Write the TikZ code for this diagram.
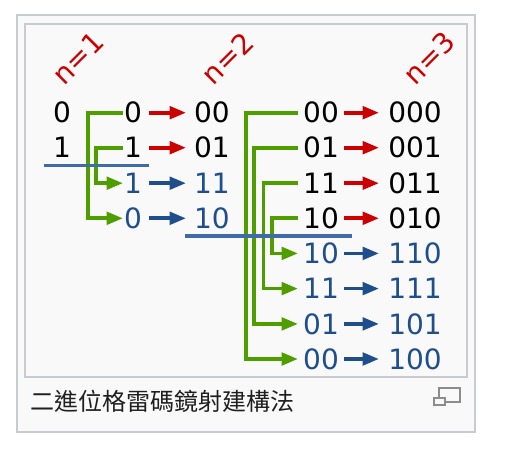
\documentclass[tikz,border=0pt]{standalone}
\usepackage{fontspec}
\setmainfont{DejaVu Sans}
\newfontfamily\cjkfont{Noto Sans CJK TC}
\usetikzlibrary{arrows.meta}
\definecolor{framegray}{HTML}{C8CCD0}
\definecolor{panelbg}{HTML}{F9F9F9}
\definecolor{arrred}{HTML}{CC0000}
\definecolor{arrblue}{HTML}{1F4E8C}
\definecolor{rulblue}{HTML}{3F6CA6}
\definecolor{arrgreen}{HTML}{4F9E00}
\definecolor{icongray}{HTML}{8C8C8C}
\tikzset{
  x=1pt,y=-1pt,
  digit/.style={inner sep=0pt,outer sep=0pt,font=\fontsize{28}{28}\selectfont,text height=20.5pt,text depth=0pt,align=center},
  blackd/.style={digit,text=black},
  blued/.style={digit,text=arrblue},
  wa/.style={minimum width=20pt},
  wb/.style={minimum width=52pt},
  wc/.style={minimum width=46pt},
  wd/.style={minimum width=72pt},
  nlabel/.style={text=arrred,rotate=45,inner sep=0pt,font=\fontsize{28}{28}\selectfont},
  tipped/.style={line width=3.7pt,-{Triangle[length=16.5pt,width=12.5pt]}},
  redarrow/.style={tipped,draw=arrred,arrred},
  bluearrow/.style={tipped,draw=arrblue,arrblue},
  greenarrow/.style={tipped,draw=arrgreen,arrgreen,line cap=butt},
  divider/.style={draw=rulblue,line width=3.6pt},
  panel/.style={draw=framegray,line width=2pt,fill=panelbg},
}
\begin{document}
\begin{tikzpicture}
\useasboundingbox (0,0) rectangle (510,452);
\fill[white] (0,0) rectangle (510,452);
\draw[panel] (17,15) rectangle (475,432);
\draw[draw=framegray,line width=1.8pt,fill=panelbg] (25,24) rectangle (467,377);

\node[nlabel] (n1) at (78,58) {n=1};
\node[nlabel] (n2) at (227.5,58) {n=2};
\node[nlabel] (n3) at (429.5,58) {n=3};

\node[blackd] (s0) at (62,112.7) {0};
\node[blackd] (s1) at (62,147.7) {1};

\node[blackd,wa] (a0) at (133,112.7) {0};
\node[blackd,wa] (a1) at (133,147.7) {1};
\node[blued,wa] (a2) at (133,183.2) {1};
\node[blued,wa] (a3) at (133,218.3) {0};

\node[blackd,wb] (b0) at (212,112.7) {00};
\node[blackd,wb] (b1) at (212,147.7) {01};
\node[blued,wb] (b2) at (212,183.2) {11};
\node[blued,wb] (b3) at (212,218.3) {10};

\node[blackd,wc] (c0) at (321,112.7) {00};
\node[blackd,wc] (c1) at (321,147.7) {01};
\node[blackd,wc] (c2) at (321,183.2) {11};
\node[blackd,wc] (c3) at (321,218.3) {10};
\node[blued,wc] (c4) at (321,253.4) {10};
\node[blued,wc] (c5) at (321,288.6) {11};
\node[blued,wc] (c6) at (321,323.9) {01};
\node[blued,wc] (c7) at (321,359) {00};

\node[blackd,wd] (d0) at (415,112.7) {000};
\node[blackd,wd] (d1) at (415,147.7) {001};
\node[blackd,wd] (d2) at (415,183.2) {011};
\node[blackd,wd] (d3) at (415,218.3) {010};
\node[blued,wd] (d4) at (415,253.4) {110};
\node[blued,wd] (d5) at (415,288.6) {111};
\node[blued,wd] (d6) at (415,323.9) {101};
\node[blued,wd] (d7) at (415,359) {100};

\draw[redarrow,shorten <=6pt] (a0) -- (b0);
\draw[redarrow,shorten <=6pt] (a1) -- (b1);
\draw[bluearrow,shorten <=6pt] (a2) -- (b2);
\draw[bluearrow,shorten <=6pt] (a3) -- (b3);

\draw[redarrow] (c0) -- (d0);
\draw[redarrow] (c1) -- (d1);
\draw[redarrow] (c2) -- (d2);
\draw[redarrow] (c3) -- (d3);
\draw[bluearrow] (c4) -- (d4);
\draw[bluearrow] (c5) -- (d5);
\draw[bluearrow] (c6) -- (d6);
\draw[bluearrow] (c7) -- (d7);

\draw[greenarrow] (a0.west) -- ++(-35,0) |- (a3.west);
\draw[greenarrow] (a1.west) -- ++(-27,0) |- (a2.west);
\draw[greenarrow] (c0.west) -- ++(-52.3,0) |- (c7.west);
\draw[greenarrow] (c1.west) -- ++(-44,0) |- (c6.west);
\draw[greenarrow] (c2.west) -- ++(-34.5,0) |- (c5.west);
\draw[greenarrow] (c3.west) -- ++(-26,0) |- (c4.west);

\coordinate (r1a) at (44,165.4);
\coordinate (r1b) at (149,165.4);
\coordinate (r2a) at (185,236);
\coordinate (r2b) at (352,236);
\draw[divider] (r1a) -- (r1b);
\draw[divider] (r2a) -- (r2b);

\node[inner sep=0pt,anchor=west,text=black!88,font=\cjkfont\fontsize{24}{24}\selectfont] (cap) at (30.5,401) {二進位格雷碼鏡射建構法};

\draw[icongray,line width=2pt,fill=panelbg] (439,388) rectangle (460,402);
\draw[icongray,line width=2pt,fill=panelbg] (434,398) rectangle (445,405);
\end{tikzpicture}
\end{document}
